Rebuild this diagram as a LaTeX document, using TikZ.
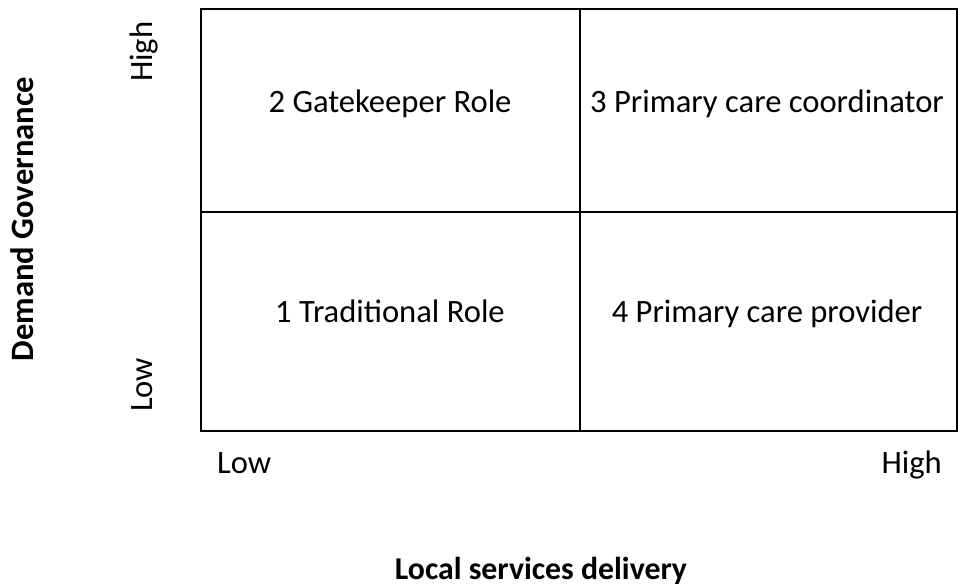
\documentclass[tikz,border=0pt]{standalone}
\usepackage{fontspec}
\setmainfont{Carlito}
\begin{document}
\begin{tikzpicture}[x=1pt,y=-1pt,
  lbl/.style={font=\fontsize{32.6}{38}\selectfont, inner sep=0pt},
  axis/.style={font=\fontsize{32.6}{38}\selectfont\bfseries, inner sep=0pt},
  grid/.style={line width=2.2pt}]
\useasboundingbox (0,0) rectangle (959,588);
% quadrant frame
\draw[grid] (201,9) rectangle (957,431);
\draw[grid] (580,9) -- (580,431);
\draw[grid] (201,212) -- (957,212);
% quadrant labels
\node[lbl, anchor=base] (q2) at (390,113) {2 Gatekeeper Role};
\node[lbl, anchor=base] (q3) at (767,113) {3 Primary care coordinator};
\node[lbl, anchor=base] (q1) at (390,322) {1 Traditional Role};
\node[lbl, anchor=base] (q4) at (767,322) {4 Primary care provider};
% vertical axis
\node[lbl, rotate=90, anchor=base west] (yhigh) at (152,82) {High};
\node[lbl, rotate=90, anchor=base west] (ylow) at (152,412) {Low};
\node[axis, rotate=90, anchor=base] (ytitle) at (34,219) {Demand Governance};
% horizontal axis
\node[lbl, anchor=base west] (xlow) at (217,473) {Low};
\node[lbl, anchor=base east] (xhigh) at (942,473) {High};
\node[axis, font=\fontsize{31.8}{38}\selectfont\bfseries, anchor=base] (xtitle) at (541,579) {Local services delivery};
\end{tikzpicture}
\end{document}
